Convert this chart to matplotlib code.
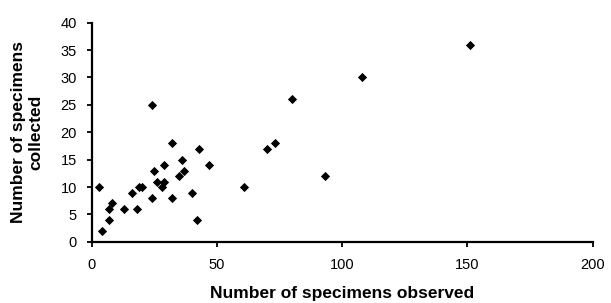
import matplotlib.pyplot as plt

# Datos
observados = [3, 4, 7, 7, 8, 13, 16, 18, 19, 20, 24, 24, 25, 26, 28, 29, 29, 32, 32,
              35, 36, 37, 40, 42, 43, 47, 61, 70, 73, 80, 93, 108, 151]
colectados = [10, 2, 4, 6, 7, 6, 9, 6, 10, 10, 25, 8, 13, 11, 10, 14, 11, 18, 8,
              12, 15, 13, 9, 4, 17, 14, 10, 17, 18, 26, 12, 30, 36]

plt.rcParams['font.family'] = ['Liberation Sans', 'DejaVu Sans']

fig = plt.figure(figsize=(6.11, 3.03), dpi=100)
ax = fig.add_axes([0.150, 0.202, 0.820, 0.723])

ax.scatter(observados, colectados, marker='D', s=22, color='black', linewidths=0, zorder=3)

ax.set_xlim(0, 200)
ax.set_ylim(0, 40)
ax.set_xticks(range(0, 201, 50))
ax.set_yticks(range(0, 41, 5))

for lado in ['top', 'right']:
    ax.spines[lado].set_visible(False)
for lado in ['left', 'bottom']:
    ax.spines[lado].set_linewidth(1.6)
    ax.spines[lado].set_color('black')

ax.tick_params(direction='out', length=3.6, width=1.3, labelsize=10.5)
ax.tick_params(axis='y', pad=7)
ax.tick_params(axis='x', pad=8)

# Etiquetas de los ejes
fig.text(0.5594, 0.0165, "Number of specimens observed", fontsize=12.5,
         fontweight='bold', ha='center', va='baseline')
fig.text(0.0442, 0.564, "Number of specimens\ncollected", fontsize=12.5,
         fontweight='bold', ha='center', va='center', rotation=90, linespacing=1.25)

fig.savefig("out.png", dpi=100)
